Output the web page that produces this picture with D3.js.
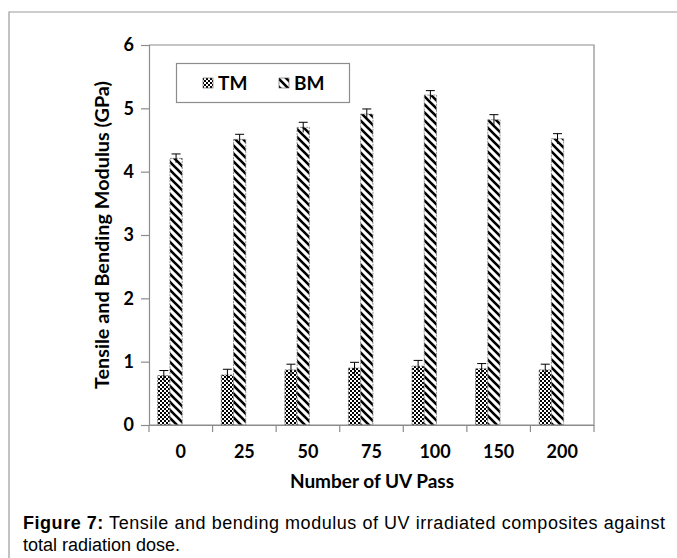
<!DOCTYPE html>
<html>
<head>
<meta charset="utf-8">
<script src="https://cdn.jsdelivr.net/npm/d3@7"></script>
<style>
  body { margin: 0; background: #fff; }
  svg { display: block; }
</style>
</head>
<body>
<div class="chart"></div>
<script>
// data
var categories = ["0", "25", "50", "75", "100", "150", "200"];
var seriesNames = ["TM", "BM"];
var tmValues = [0.78, 0.79, 0.87, 0.90, 0.93, 0.89, 0.87];
var tmErrors = [0.08, 0.09, 0.09, 0.09, 0.09, 0.08, 0.09];
var bmValues = [4.21, 4.51, 4.70, 4.91, 5.21, 4.82, 4.52];
var bmErrors = [0.07, 0.08, 0.08, 0.08, 0.07, 0.08, 0.08];
var yTicks = [0, 1, 2, 3, 4, 5, 6];

var width = 677, height = 558;
var plot = { left: 149, right: 594, top: 45, bottom: 425 };
var axisColor = "#8c8c8c";
var labelFont = "Lato, 'Open Sans', sans-serif";

var svg = d3.select(".chart").append("svg")
  .attr("width", width)
  .attr("height", height);

// patterns for the two series
var defs = svg.append("defs");
var checker = defs.append("pattern")
  .attr("id", "pat-tm")
  .attr("patternUnits", "userSpaceOnUse")
  .attr("width", 4).attr("height", 4);
checker.append("rect").attr("width", 4).attr("height", 4).attr("fill", "#fff");
checker.append("rect").attr("width", 2).attr("height", 2).attr("fill", "#000");
checker.append("rect").attr("x", 2).attr("y", 2).attr("width", 2).attr("height", 2).attr("fill", "#000");

var stripes = defs.append("pattern")
  .attr("id", "pat-bm")
  .attr("patternUnits", "userSpaceOnUse")
  .attr("width", 8).attr("height", 8);
stripes.append("rect").attr("width", 8).attr("height", 8).attr("fill", "#fff");
stripes.append("path")
  .attr("d", "M-2,-2 L10,10 M-2,6 L2,10 M6,-2 L10,2")
  .attr("stroke", "#000")
  .attr("stroke-width", 2.6);

// outer figure frame
svg.append("path")
  .attr("d", "M9," + height + " L9,12 L" + width + ",12")
  .attr("fill", "none")
  .attr("stroke", "#9a9a9a")
  .attr("stroke-width", 1.2);

var x = d3.scaleBand()
  .domain(categories)
  .range([plot.left, plot.right])
  .padding(0);

var xs = d3.scaleBand()
  .domain(seriesNames)
  .range([8.7, 33.2])
  .padding(0);

var y = d3.scaleLinear()
  .domain([0, 6])
  .range([plot.bottom, plot.top]);

// plot frame (top and right)
svg.append("path")
  .attr("d", "M" + plot.left + "," + plot.top + " L" + plot.right + "," + plot.top + " L" + plot.right + "," + plot.bottom)
  .attr("fill", "none")
  .attr("stroke", axisColor)
  .attr("stroke-width", 1.2);

// axes
var yAxis = svg.append("g")
  .attr("transform", "translate(" + plot.left + ",0)")
  .call(d3.axisLeft(y).tickValues(yTicks).tickSize(8).tickPadding(7).tickFormat(d3.format("d")));

var xAxis = svg.append("g")
  .attr("transform", "translate(0," + plot.bottom + ")")
  .call(d3.axisBottom(x).tickSize(0).tickPadding(20));

// category boundary ticks like Excel
xAxis.selectAll(".bound")
  .data(d3.range(categories.length + 1))
  .enter().append("line")
  .attr("class", "bound")
  .attr("x1", function(i) { return plot.left + i * x.step(); })
  .attr("x2", function(i) { return plot.left + i * x.step(); })
  .attr("y1", 0).attr("y2", 7);

[xAxis, yAxis].forEach(function(g) {
  g.selectAll("path, line").attr("stroke", axisColor).attr("stroke-width", 1.2);
  g.selectAll("text")
    .attr("fill", "#000")
    .style("font-family", labelFont)
    .style("font-weight", "bold")
    .style("font-size", "18px");
});

// bars
var series = [
  { name: "TM", values: tmValues, errors: tmErrors, fill: "url(#pat-tm)" },
  { name: "BM", values: bmValues, errors: bmErrors, fill: "url(#pat-bm)" }
];

series.forEach(function(s) {
  var rows = categories.map(function(c, i) { return { cat: c, v: s.values[i], e: s.errors[i] }; });
  var g = svg.append("g").attr("class", "series-" + s.name);

  g.selectAll("rect")
    .data(rows)
    .enter().append("rect")
    .attr("x", function(d) { return x(d.cat) + xs(s.name); })
    .attr("y", function(d) { return y(d.v); })
    .attr("width", xs.bandwidth())
    .attr("height", function(d) { return y(0) - y(d.v); })
    .attr("fill", s.fill)
    .attr("stroke", "#7a7a7a")
    .attr("stroke-width", 0.8)
    .attr("stroke-dasharray", "2,1");

  // error bars
  var cx = function(d) { return x(d.cat) + xs(s.name) + xs.bandwidth() / 2; };
  g.selectAll(".err")
    .data(rows)
    .enter().append("line")
    .attr("class", "err")
    .attr("x1", cx).attr("x2", cx)
    .attr("y1", function(d) { return y(d.v - d.e); })
    .attr("y2", function(d) { return y(d.v + d.e); })
    .attr("stroke", "#000").attr("stroke-width", 1);
  g.selectAll(".cap")
    .data(rows)
    .enter().append("line")
    .attr("class", "cap")
    .attr("x1", function(d) { return cx(d) - 4.5; })
    .attr("x2", function(d) { return cx(d) + 4.5; })
    .attr("y1", function(d) { return y(d.v + d.e); })
    .attr("y2", function(d) { return y(d.v + d.e); })
    .attr("stroke", "#000").attr("stroke-width", 1);
});

// redraw axis line on top of bars
svg.append("line")
  .attr("x1", plot.left).attr("x2", plot.right)
  .attr("y1", plot.bottom).attr("y2", plot.bottom)
  .attr("stroke", axisColor).attr("stroke-width", 1.2);

// legend
var legend = svg.append("g");
legend.append("rect")
  .attr("x", 176.5).attr("y", 63.5)
  .attr("width", 173).attr("height", 39)
  .attr("fill", "#fff")
  .attr("stroke", axisColor)
  .attr("stroke-width", 1.2);
var legendItems = [
  { name: "TM", fill: "url(#pat-tm)", x: 203 },
  { name: "BM", fill: "url(#pat-bm)", x: 279 }
];
legendItems.forEach(function(it) {
  legend.append("rect")
    .attr("x", it.x).attr("y", 78)
    .attr("width", 10).attr("height", 10)
    .attr("fill", it.fill)
    .attr("stroke", "#555").attr("stroke-width", 0.6);
  legend.append("text")
    .attr("x", it.x + 15).attr("y", 89.5)
    .style("font-family", labelFont)
    .style("font-weight", "bold")
    .style("font-size", "19px")
    .text(it.name);
});

// axis titles
svg.append("text")
  .attr("x", 372)
  .attr("y", 488)
  .attr("text-anchor", "middle")
  .style("font-family", labelFont)
  .style("font-weight", "bold")
  .style("font-size", "19px")
  .text("Number of UV Pass");

svg.append("text")
  .attr("transform", "translate(109,235) rotate(-90)")
  .attr("text-anchor", "middle")
  .attr("textLength", 308)
  .attr("lengthAdjust", "spacingAndGlyphs")
  .style("font-family", labelFont)
  .style("font-weight", "bold")
  .style("font-size", "18px")
  .text("Tensile and Bending Modulus (GPa)");

// caption
var capFont = "'Liberation Sans Narrow', 'Liberation Sans', Arial, sans-serif";
var cap1 = svg.append("text")
  .attr("x", 23).attr("y", 529)
  .attr("textLength", 642)
  .attr("lengthAdjust", "spacing")
  .style("font-family", capFont)
  .style("font-size", "18px");
cap1.append("tspan").style("font-weight", "bold").text("Figure 7:");
cap1.append("tspan").text(" Tensile and bending modulus of UV irradiated composites against");

svg.append("text")
  .attr("x", 23).attr("y", 551)
  .style("font-family", capFont)
  .style("font-size", "18px")
  .text("total radiation dose.");
</script>
</body>
</html>
